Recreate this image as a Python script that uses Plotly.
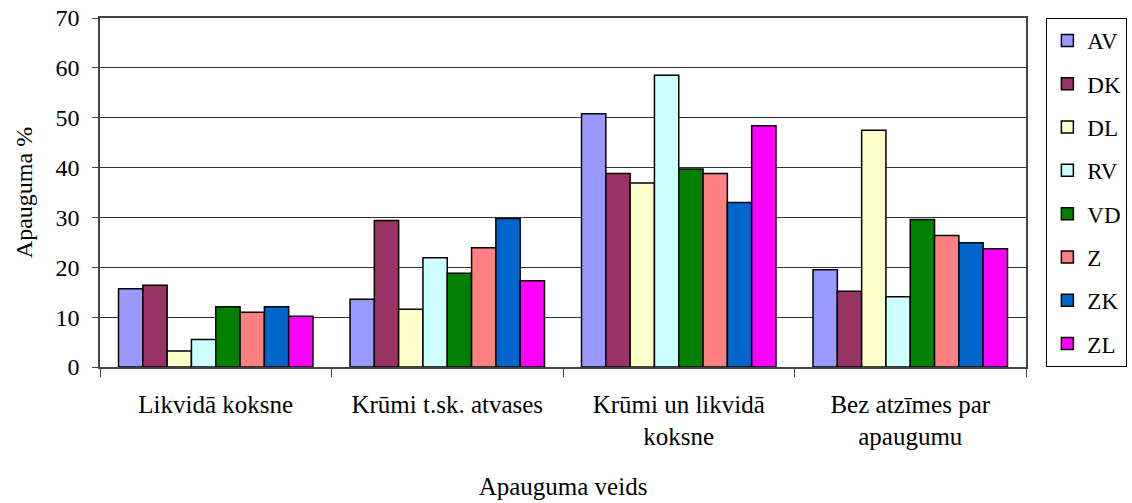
import plotly.graph_objects as go

categories = [
    "Likvidā koksne",
    "Krūmi t.sk. atvases",
    "Krūmi un likvidā<br>koksne",
    "Bez atzīmes par<br>apaugumu",
]

series_names = ["AV", "DK", "DL", "RV", "VD", "Z", "ZK", "ZL"]

av = [15.7, 13.6, 50.8, 19.5]
dk = [16.4, 29.4, 38.8, 15.2]
dl = [3.2, 11.6, 36.9, 47.5]
rv = [5.5, 21.9, 58.5, 14.1]
vd = [12.1, 18.8, 39.7, 29.6]
z = [11.0, 23.9, 38.8, 26.4]
zk = [12.1, 29.8, 33.0, 24.9]
zl = [10.2, 17.3, 48.4, 23.7]

series_values = [av, dk, dl, rv, vd, z, zk, zl]
colors = ["#9999FF", "#993366", "#FFFFCC", "#CCFFFF",
          "#008000", "#FF8080", "#0066CC", "#FF00FF"]

font_family = "Liberation Serif"

fig = go.Figure()
for name, vals, col in zip(series_names, series_values, colors):
    fig.add_bar(
        x=categories,
        y=vals,
        name=name,
        legendgroup=name,
        marker=dict(color=col, line=dict(color="black", width=1.5)),
    )

fig.update_layout(
    width=1132,
    height=503,
    barmode="group",
    bargap=0.16,
    bargroupgap=0,
    plot_bgcolor="white",
    paper_bgcolor="white",
    margin=dict(l=100, r=106, t=18, b=136, autoexpand=False),
    font=dict(family=font_family, size=24, color="black"),
    legend=dict(
        x=1.022, y=1.0, xanchor="left", yanchor="top",
        bordercolor="black", borderwidth=1,
        tracegroupgap=10.4,
        traceorder="grouped",
        font=dict(size=23),
    ),
    xaxis=dict(
        title=dict(text="Apauguma veids", standoff=28, font=dict(size=25)),
        tickfont=dict(size=25),
        ticklabelstandoff=14,
        showline=True, linecolor="#444", linewidth=1.5, mirror=True,
        ticks="outside", tickson="boundaries", ticklen=8, tickcolor="#444",
        showgrid=False,
    ),
    yaxis=dict(
        title=dict(text="Apauguma %", standoff=16, font=dict(size=24)),
        range=[0, 70], dtick=10,
        ticklabelstandoff=8,
        showline=True, linecolor="#444", linewidth=1.5, mirror=True,
        ticks="outside", ticklen=6, tickcolor="#444",
        gridcolor="#333", gridwidth=1,
        zeroline=False,
    ),
)

# drop the default page margin so the figure sits at the window corner
fig.write_html(
    "out.html",
    config={"displayModeBar": False},
    post_script="document.body.style.margin='0';",
)
